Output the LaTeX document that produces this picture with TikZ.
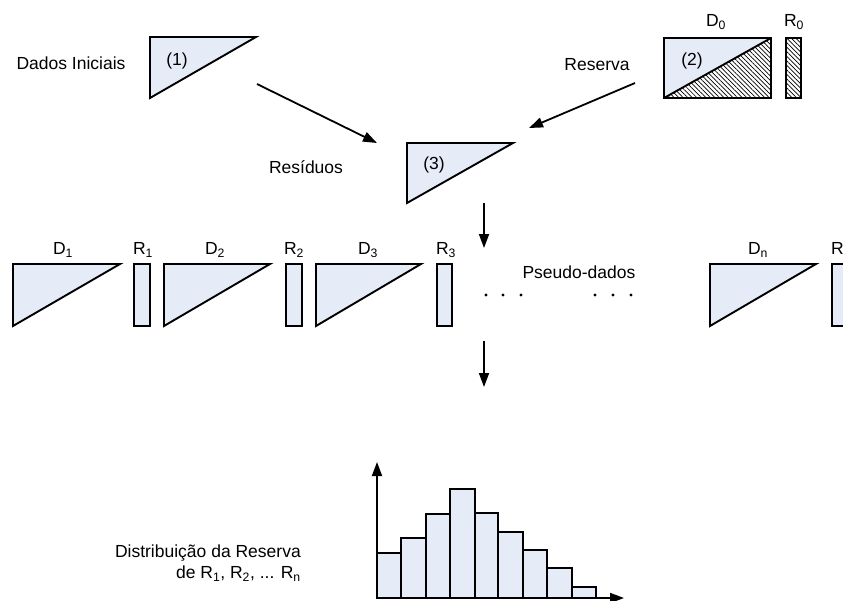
\documentclass[tikz,border=0pt]{standalone}
\usepackage{fontspec}
\setmainfont{Liberation Sans}
\usetikzlibrary{arrows.meta,patterns.meta}
\definecolor{lb}{RGB}{230,236,247}
\begin{document}
\begin{tikzpicture}[x=1pt,y=-1pt,
  shp/.style={draw=black,line width=1.9pt,fill=lb,line join=miter},
  hatch/.style={pattern={Lines[angle=-45,distance=3.2pt,line width=0.7pt]}},
  lbl/.style={font=\fontsize{17.5}{21}\selectfont,inner sep=0pt},
  arr/.style={line width=1.8pt,-{Triangle[length=14pt,width=10pt]}},
  dot/.style={circle,fill=black,inner sep=0pt,minimum size=3.2pt}]
\useasboundingbox (0,0) rectangle (843,600);
\clip (0,0) rectangle (843,600);

% (1) initial data
\draw[shp] (150,37) -- (256,37) -- (150,98) -- cycle;
\node[lbl] (dados) at (71,63) {Dados Iniciais};
\node[lbl] (t1) at (177,61) {(1)};

% (2) reserve D0 / R0
\fill[white] (664,38) rectangle (771,98);
\fill[lb] (664,38) -- (771,38) -- (664,98) -- cycle;
\fill[hatch] (664,98) -- (771,38) -- (771,98) -- cycle;
\draw[line width=1.9pt] (664,38) rectangle (771,98);
\draw[line width=1.9pt] (664,98) -- (771,38);
\fill[white] (786,38) rectangle (801,98);
\fill[hatch] (786,38) rectangle (801,98);
\draw[line width=1.9pt] (786,38) rectangle (801,98);
\node[lbl] (d0) at (716,22) {D\textsubscript{0}};
\node[lbl] (r0) at (794,22) {R\textsubscript{0}};
\node[lbl] (reserva) at (597,65) {Reserva};
\node[lbl] (t2) at (692,61) {(2)};

% (3) residuals
\draw[shp] (407,143) -- (513,143) -- (407,203) -- cycle;
\node[lbl] (resid) at (306,167) {Resíduos};
\node[lbl] (t3) at (434,165) {(3)};

% arrows
\coordinate (a1s) at (257,84);
\coordinate (a1e) at (377,143);
\coordinate (a2s) at (635,83);
\coordinate (a2e) at (529,128);
\draw[arr] (a1s) -- (a1e);
\draw[arr] (a2s) -- (a2e);
\coordinate (a3s) at (484,203);
\coordinate (a3e) at (484,248);
\coordinate (a4s) at (484,341);
\coordinate (a4e) at (484,387);
\draw[arr] (a3s) -- (a3e);
\draw[arr] (a4s) -- (a4e);

% pseudo data row
\draw[shp] (13,264) -- (120,264) -- (13,326) -- cycle;
\draw[shp] (134,264) rectangle (150,326);
\draw[shp] (164,264) -- (270,264) -- (164,326) -- cycle;
\draw[shp] (286,264) rectangle (302,326);
\draw[shp] (316,264) -- (421,264) -- (316,326) -- cycle;
\draw[shp] (437,264) rectangle (452,326);
\draw[shp] (710,264) -- (816,264) -- (710,326) -- cycle;
\draw[shp] (832,264) rectangle (850,326);
\node[lbl] (d1) at (63,250) {D\textsubscript{1}};
\node[lbl] (r1) at (143,250) {R\textsubscript{1}};
\node[lbl] (d2) at (215,250) {D\textsubscript{2}};
\node[lbl] (r2) at (294,250) {R\textsubscript{2}};
\node[lbl] (d3) at (368,250) {D\textsubscript{3}};
\node[lbl] (r3) at (446,250) {R\textsubscript{3}};
\node[lbl] (dn) at (758,250) {D\textsubscript{n}};
\node[lbl,anchor=west] (rn) at (831,250) {R\textsubscript{n}};
\node[lbl] (pseudo) at (579,272) {Pseudo-dados};
\foreach \x/\n in {486/p1,503/p2,521/p3,595/p4,613/p5,631/p6}
  \node[dot] (\n) at (\x,295) {};

% histogram
\foreach \xa/\xb/\yt in {377/401/553,401/426/538,426/450/514,450/475/489,475/498/513,498/523/532,523/547/550,547/572/568,572/596/587}
  \draw[shp] (\xa,598) rectangle (\xb,\yt);
\coordinate (orig) at (377,598);
\coordinate (ytip) at (377,462);
\coordinate (xtip) at (624,598);
\draw[arr] (orig) -- (ytip);
\draw[arr] (orig) -- (xtip);
\node[lbl,align=right,anchor=east] (dist) at (301,563) {Distribuição da Reserva\\de R\textsubscript{1}, R\textsubscript{2}, ... R\textsubscript{n}};
\end{tikzpicture}
\end{document}
